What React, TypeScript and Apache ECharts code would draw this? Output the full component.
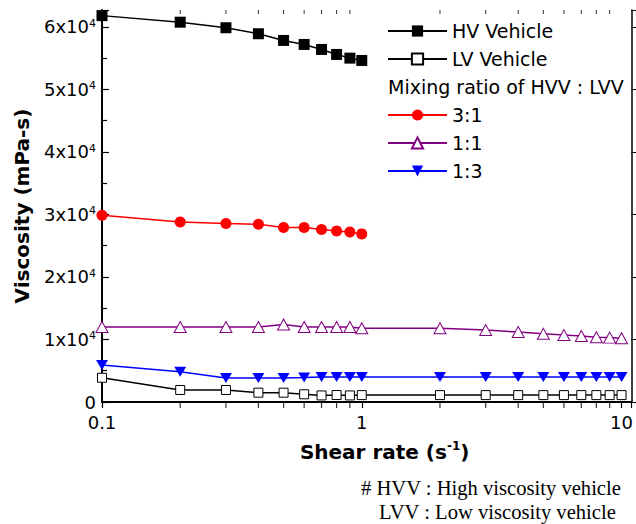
import React, { useEffect, useRef } from "react";
import * as echarts from "echarts";

// Shear rate (s^-1)
const xLow = [0.1, 0.2, 0.3, 0.4, 0.5, 0.6, 0.7, 0.8, 0.9, 1];
const xFull = [0.1, 0.2, 0.3, 0.4, 0.5, 0.6, 0.7, 0.8, 0.9, 1, 2, 3, 4, 5, 6, 7, 8, 9, 10];

// Viscosity (mPa-s)
const hvVehicle = [61800, 60750, 59860, 58900, 57830, 57190, 56390, 55590, 55000, 54630];
const lvVehicle = [3880, 1920, 1920, 1490, 1490, 1230, 1050, 1120, 1050, 1100, 1100, 1100, 1100, 1100, 1100, 1100, 1100, 1100, 1100];
const ratio31 = [29870, 28800, 28550, 28430, 27910, 27910, 27590, 27360, 27200, 26890];
const ratio11 = [12000, 12000, 12000, 12000, 12400, 12000, 12000, 12000, 12000, 11800, 11800, 11500, 11200, 10900, 10700, 10550, 10350, 10300, 10200];
const ratio13 = [5910, 4840, 3850, 3850, 3850, 3900, 4000, 4000, 4000, 4000, 4000, 4000, 4000, 4000, 4000, 4000, 4000, 4000, 4000];

// axis
const xMin = 0.1;
const xMax = 10.9;
const yMin = 0;
const yMax = 62700;
const yInterval = 10000;
const xMajorLabels = [0.1, 1, 10];
const xMinorTicks = [0.2, 0.3, 0.4, 0.5, 0.6, 0.7, 0.8, 0.9, 2, 3, 4, 5, 6, 7, 8, 9];

const legendTop = ["HV Vehicle", "LV Vehicle"];
const legendBottom = ["3:1", "1:1", "1:3"];
const legendHeading = "Mixing ratio of HVV : LVV";
const footnote1 = "# HVV : High viscosity vehicle";
const footnote2 = "LVV : Low viscosity vehicle";

const SANS = "DejaVu Sans";

export default function App() {
  const ref = useRef<HTMLDivElement>(null);
  useEffect(() => {
    if (!ref.current) return;
    const chart = echarts.init(ref.current, null, { renderer: "svg" });
    const pair = (xs: number[], ys: number[]) => xs.map((x, i) => [x, ys[i]]);
    const legendCommon = {
      orient: "vertical",
      left: 387,
      padding: 0,
      itemWidth: 59,
      itemHeight: 14,
      itemGap: 8,
      selectedMode: false,
      textStyle: { fontFamily: SANS, fontSize: 19, color: "#000", lineHeight: 20 },
    };
    const option: any = {
      animation: false,
      backgroundColor: "#fff",
      grid: { left: 102, right: 4, top: 10, bottom: 122, containLabel: false },
      legend: [
        { ...legendCommon, top: 21, data: legendTop },
        { ...legendCommon, top: 105, data: legendBottom },
      ],
      xAxis: [
        {
          type: "log",
          logBase: 10,
          min: xMin,
          max: xMax,
          position: "bottom",
          axisLine: { lineStyle: { color: "#000", width: 2 } },
          axisTick: { inside: false, length: 6, lineStyle: { color: "#000", width: 1.2 } },
          splitLine: { show: false },
          axisLabel: {
            fontFamily: SANS,
            fontSize: 18,
            color: "#000",
            margin: 11,
            formatter: (v: number) => {
              const m = xMajorLabels.find((t) => Math.abs(t - v) < 1e-6);
              return m !== undefined ? String(m) : "";
            },
          },
          name: "{b|Shear rate (s}{s|-1}{b|)}",
          nameLocation: "middle",
          nameGap: 38,
          nameTextStyle: {
            padding: [0, 0, 0, 36],
            rich: {
              b: { fontFamily: SANS, fontWeight: "bold", fontSize: 20, color: "#000", lineHeight: 24 },
              s: { fontFamily: SANS, fontWeight: "bold", fontSize: 12, color: "#000", verticalAlign: "top", lineHeight: 14 },
            },
          },
        },
        {
          type: "log",
          logBase: 10,
          min: xMin,
          max: xMax,
          position: "top",
          axisLine: { lineStyle: { color: "#000", width: 1.5 } },
          axisTick: { inside: true, length: 5, lineStyle: { color: "#000", width: 1 } },
          axisLabel: { show: false },
          splitLine: { show: false },
        },
      ],
      yAxis: [
        {
          type: "value",
          min: yMin,
          max: yMax,
          interval: yInterval,
          position: "left",
          axisLine: { show: true, lineStyle: { color: "#000", width: 2 } },
          axisTick: { inside: true, length: 7, lineStyle: { color: "#000", width: 1.2 } },
          minorTick: { show: true, splitNumber: 2, length: 5, lineStyle: { color: "#000", width: 1.2 } },
          splitLine: { show: false },
          axisLabel: {
            margin: 6,
            formatter: (v: number) => {
              if (v === 0) return "{m|0}";
              if (v % yInterval !== 0) return "";
              return `{m|${v / yInterval}x10}{s|4}`;
            },
            rich: {
              m: { fontFamily: SANS, fontSize: 18, color: "#000", lineHeight: 18 },
              s: { fontFamily: SANS, fontSize: 11, color: "#000", verticalAlign: "top", lineHeight: 11 },
            },
          },
          name: "Viscosity (mPa-s)",
          nameLocation: "middle",
          nameGap: 70,
          nameTextStyle: { fontFamily: SANS, fontWeight: "bold", fontSize: 20, color: "#000" },
        },
        {
          type: "value",
          min: yMin,
          max: yMax,
          interval: yInterval,
          position: "right",
          axisLine: { show: true, lineStyle: { color: "#000", width: 1.5 } },
          axisTick: { inside: false, length: 5, lineStyle: { color: "#000", width: 1 } },
          axisLabel: { show: false },
          splitLine: { show: false },
        },
      ],
      graphic: [
        {
          type: "text",
          left: 388,
          top: 77,
          style: { text: legendHeading, font: `19px '${SANS}'`, fill: "#000" },
        },
        {
          type: "text",
          left: 361,
          top: 477,
          style: { text: footnote1, font: "20.6px 'Liberation Serif'", fill: "#000" },
        },
        {
          type: "text",
          left: 379,
          top: 501,
          style: { text: footnote2, font: "20.6px 'Liberation Serif'", fill: "#000" },
        },
      ],
      series: [
        {
          name: "ticksBottom",
          type: "scatter",
          silent: true,
          clip: false,
          symbol: "rect",
          symbolSize: [1.2, 5],
          symbolOffset: [0, 3.5],
          itemStyle: { color: "#000" },
          data: xMinorTicks.map((x) => [x, yMin]),
          z: 1,
        },
        {
          name: "ticksTop",
          type: "scatter",
          silent: true,
          clip: false,
          symbol: "rect",
          symbolSize: [1, 4],
          symbolOffset: [0, 2],
          itemStyle: { color: "#000" },
          data: xMinorTicks.map((x) => [x, yMax]),
          z: 1,
        },
        {
          name: "HV Vehicle",
          type: "line",
          data: pair(xLow, hvVehicle),
          symbol: "rect",
          symbolSize: 11,
          itemStyle: { color: "#000" },
          lineStyle: { color: "#000", width: 1.5 },
        },
        {
          name: "LV Vehicle",
          type: "line",
          data: pair(xFull, lvVehicle),
          symbol: "rect",
          symbolSize: 9,
          itemStyle: { color: "#fff", borderColor: "#000", borderWidth: 1 },
          lineStyle: { color: "#000", width: 1.5 },
        },
        {
          name: "3:1",
          type: "line",
          data: pair(xLow, ratio31),
          symbol: "circle",
          symbolSize: 11,
          itemStyle: { color: "#ff0000" },
          lineStyle: { color: "#ff0000", width: 1.5 },
        },
        {
          name: "1:1",
          type: "line",
          data: pair(xFull, ratio11),
          symbol: "triangle",
          symbolSize: [12, 11],
          itemStyle: { color: "#fff", borderColor: "#800080", borderWidth: 1 },
          lineStyle: { color: "#800080", width: 1.5 },
        },
        {
          name: "1:3",
          type: "line",
          data: pair(xFull, ratio13),
          symbol: "triangle",
          symbolRotate: 180,
          symbolSize: [12, 10],
          itemStyle: { color: "#0000ff" },
          lineStyle: { color: "#0000ff", width: 1.5 },
        },
      ],
    };
    chart.setOption(option);
    return () => chart.dispose();
  }, []);
  return (
    <div
      ref={ref}
      style={{ position: "fixed", left: 0, top: 0, width: 636, height: 524, background: "#fff" }}
    />
  );
}
